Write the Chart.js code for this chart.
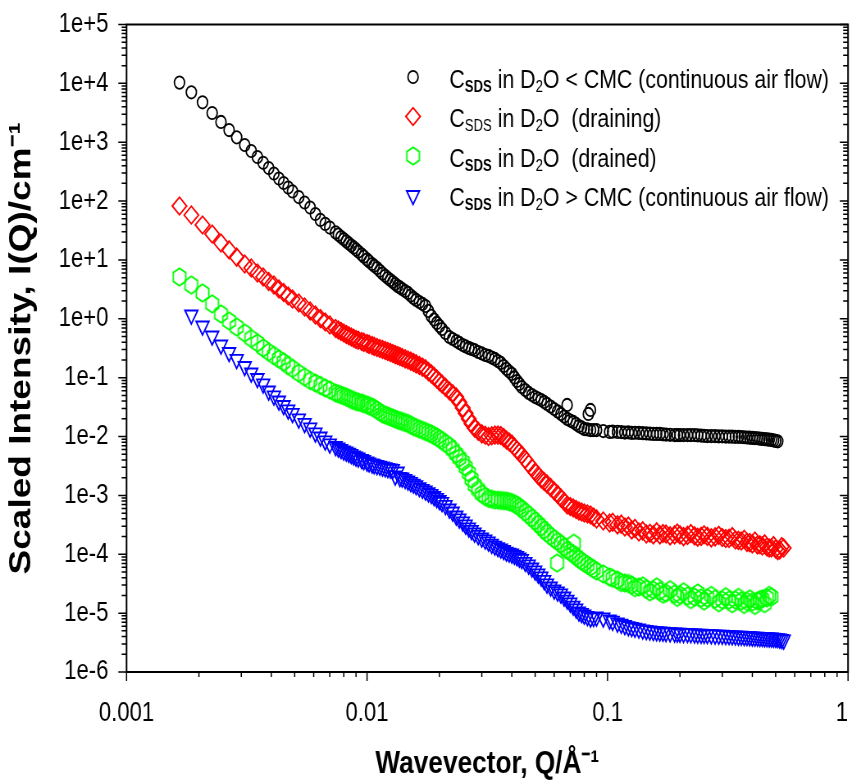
<!DOCTYPE html>
<html>
<head>
<meta charset="utf-8">
<script src="https://cdn.jsdelivr.net/npm/chart.js@4.4.1/dist/chart.umd.min.js"></script>
<style>
  html, body { margin: 0; padding: 0; background: #fff; overflow: hidden; }
  /* the original figure is squeezed sideways, so draw wide and compress */
  #wrap { width: 1045px; height: 780px; transform: scaleX(0.82); transform-origin: 0 0; }
</style>
</head>
<body>
<div id="wrap"><canvas id="myChart" width="1045" height="780"></canvas></div>
<script>
// wavevector Q / Å^-1, main run shared by the four samples
const qValues = [
  0.00166, 0.00186, 0.00207, 0.00227, 0.00247, 0.00267, 0.00287, 0.0031, 0.0033, 0.0035,
  0.0037, 0.0039, 0.0041, 0.0043, 0.0045, 0.0047, 0.0049, 0.0052, 0.0055, 0.0058,
  0.0061, 0.0064, 0.0067, 0.0070, 0.0074, 0.0078, 0.0082, 0.0086, 0.0090, 0.0095,
  0.0100, 0.0105, 0.0110, 0.0116, 0.0122, 0.0128, 0.0134, 0.0140, 0.0148, 0.0156,
  0.0165, 0.0175, 0.0185, 0.0195, 0.0205, 0.022, 0.0235, 0.025, 0.0265, 0.028,
  0.030, 0.032, 0.034, 0.036, 0.038, 0.040, 0.042, 0.044, 0.047, 0.050,
  0.053, 0.056, 0.060, 0.064, 0.068, 0.072, 0.076, 0.080, 0.085, 0.090,
  0.096, 0.102, 0.110, 0.118, 0.126, 0.135, 0.145, 0.155, 0.165, 0.175,
  0.19, 0.20, 0.215, 0.23, 0.245, 0.26, 0.28, 0.30, 0.32, 0.34,
  0.36, 0.38, 0.40, 0.42, 0.44, 0.46, 0.48, 0.50, 0.52, 0.54
];
// overlapping mid-Q and high-Q detector settings
const qMid = [
  0.0076, 0.0080, 0.0084, 0.0088, 0.0092, 0.0097, 0.0102, 0.0107, 0.0113, 0.0119,
  0.0125, 0.0131, 0.0137, 0.0144, 0.0152, 0.0160, 0.0170, 0.0180, 0.0190, 0.0200,
  0.0212, 0.0227, 0.0242, 0.0257, 0.0272, 0.029, 0.031, 0.033, 0.035, 0.037,
  0.039, 0.041, 0.043, 0.0455, 0.0485, 0.0515, 0.0545, 0.058, 0.062, 0.066,
  0.070, 0.074, 0.078, 0.0825, 0.0875
];
const qHigh = [
  0.105, 0.114, 0.122, 0.130, 0.140, 0.150, 0.160, 0.170, 0.182, 0.195,
  0.207, 0.222, 0.237, 0.252, 0.27, 0.29, 0.31, 0.33, 0.35, 0.37,
  0.39, 0.41, 0.43, 0.45, 0.47, 0.49, 0.51, 0.53
];

// scaled intensity I(Q) / cm^-1 — C_SDS < CMC, continuous air flow
const belowCmcFlow = [
  10300, 7050, 4770, 3140, 2210, 1610, 1210, 897, 710, 561,
  447, 365, 294, 242, 203, 170, 146, 117, 94.6, 77.8,
  60.4, 47.9, 41.0, 35.5, 29.4, 24.5, 20.7, 17.6, 15.1, 12.4,
  10.2, 8.54, 7.30, 5.89, 4.94, 4.22, 3.61, 3.21, 2.75, 2.26,
  1.93, 1.65, 1.12, 0.85, 0.672, 0.491, 0.420, 0.359, 0.320, 0.295,
  0.258, 0.234, 0.208, 0.178, 0.141, 0.116, 0.0879, 0.0695, 0.0550, 0.0470,
  0.0418, 0.0358, 0.0294, 0.0242, 0.0199, 0.0177, 0.0151, 0.0134, 0.0129, 0.0129,
  0.0124, 0.0120, 0.0120, 0.0117, 0.0115, 0.0115, 0.0113, 0.0111, 0.0111, 0.0108,
  0.0106, 0.0106, 0.0106, 0.0106, 0.0104, 0.0102, 0.0102, 0.0101, 0.0100, 0.0099,
  0.00983, 0.00963, 0.00946, 0.00935, 0.00910, 0.00893, 0.00875, 0.00841, null, null
];
const belowCmcFlowMid = [
  26.9, 22.5, 19.1, 16.3, 13.9, 11.4, 9.45, 7.99, 6.55, 5.38,
  4.55, 3.89, 3.41, 2.97, 2.49, 2.09, 1.79, 1.36, 0.974, 0.756,
  0.574, 0.454, 0.389, 0.339, 0.307, 0.273, 0.243, 0.220, 0.192, 0.158,
  0.127, 0.101, 0.0782, 0.0618, 0.0508, 0.0443, 0.0387, 0.0324, 0.0267, 0.0219,
  0.0187, 0.0164, 0.0143, 0.0132, 0.0129
];
const belowCmcFlowHigh = [
  0.0121, 0.0119, 0.0118, 0.0116, 0.0114, 0.0112, 0.0111, 0.0109, 0.0107, 0.0106,
  0.0106, 0.0106, 0.0105, 0.0103, 0.0102, 0.0101, 0.0100, 0.00995, 0.00990, 0.00973,
  0.00955, 0.00940, 0.00922, 0.00902, 0.00884, 0.00860, 0.00830, null
];
const belowCmcExtraQ = [0.0679, 0.0849, 0.0832];
const belowCmcExtraI = [0.0344, 0.0283, 0.0242];

// draining
const draining = [
  82.5, 58.0, 39.3, 27.6, 19.4, 14.8, 11.2, 8.54, 7.30, 6.00,
  5.14, 4.31, 3.75, 3.21, 2.80, 2.44, 2.17, 1.86, 1.59, 1.36,
  1.16, 1.01, 0.884, 0.786, 0.685, 0.609, 0.542, 0.491, 0.446, 0.412,
  0.381, 0.352, 0.326, 0.301, 0.279, 0.258, 0.238, 0.220, 0.200, 0.181,
  0.161, 0.141, 0.116, 0.0950, 0.0782, 0.0594, 0.0470, 0.0306, 0.0199, 0.0140,
  0.0111, 0.0100, 0.0106, 0.0104, 0.00875, 0.00748, 0.00591, 0.00486, 0.00342, 0.00250,
  0.00190, 0.00156, 0.00119, 0.000905, 0.000688, 0.000612, 0.000544, 0.000503, 0.000465, 0.000398,
  0.000368, 0.000340, 0.000315, 0.000291, 0.000259, 0.000239, 0.000221, 0.000213, 0.000213, 0.000221,
  0.000213, 0.000213, 0.000209, 0.000205, 0.000201, 0.000201, 0.000197, 0.000193, 0.000186, 0.000175,
  0.000168, 0.000159, 0.000150, 0.000144, 0.000138, 0.000133, 0.000128, 0.000123, 0.000118, 0.000128
];
const drainingMid = [
  0.646, 0.574, 0.515, 0.467, 0.432, 0.399, 0.369, 0.341, 0.313, 0.289,
  0.268, 0.247, 0.229, 0.209, 0.191, 0.172, 0.151, 0.127, 0.105, 0.0855,
  0.0687, 0.0533, 0.0384, 0.0249, 0.0165, 0.0123, 0.0105, 0.0103, 0.0106, 0.00957,
  0.00809, 0.00665, 0.00536, 0.00408, 0.00292, 0.00218, 0.00172, 0.00136, 0.00104, 0.000789,
  0.000649, 0.000577, 0.000523, 0.000484, 0.000430
];
const drainingHigh = [
  0.000350, 0.000325, 0.000300, 0.000275, 0.000250, 0.000228, 0.000240, 0.000225, 0.000205, 0.000230,
  0.000200, 0.000225, 0.000195, 0.000215, 0.000190, 0.000210, 0.000185, 0.000200, 0.000172, 0.000180,
  0.000158, 0.000168, 0.000145, 0.000150, 0.000128, 0.000140, 0.000115, 0.000135
];

// drained
const drained = [
  5.14, 3.75, 2.75, 1.79, 1.21, 0.919, 0.727, 0.574, 0.463, 0.389,
  0.320, 0.273, 0.238, 0.208, 0.185, 0.161, 0.143, 0.120, 0.103, 0.0896,
  0.0813, 0.0737, 0.0668, 0.0618, 0.0550, 0.0508, 0.0470, 0.0426, 0.0394, 0.0372,
  0.0344, 0.0318, 0.0283, 0.0242, 0.0224, 0.0207, 0.0191, 0.0180, 0.0167, 0.0148,
  0.0134, 0.0122, 0.0111, 0.00983, 0.00858, 0.00692, 0.00506, 0.00370, 0.00241, 0.00150,
  0.00106, 0.000887, 0.000837, 0.000820, 0.000804, 0.000759, 0.000688, 0.000588, 0.000465, 0.000368,
  0.000291, 0.000230, 0.000182, 0.000150, 0.000118, 0.000101, 8.32e-5, 7.12e-5, 6.09e-5, 5.21e-5,
  4.63e-5, 4.12e-5, 3.66e-5, 3.26e-5, 3.01e-5, 2.78e-5, 2.57e-5, 2.47e-5, 2.38e-5, 2.20e-5,
  2.12e-5, 2.04e-5, 1.96e-5, 1.88e-5, 1.81e-5, 1.81e-5, 1.74e-5, 1.67e-5, 1.67e-5, 1.67e-5,
  1.61e-5, 1.58e-5, 1.55e-5, 1.61e-5, 1.74e-5, 1.81e-5, 1.88e-5, null, null, null
];
const drainedMid = [
  0.0528, 0.0489, 0.0448, 0.0410, 0.0385, 0.0360, 0.0333, 0.0303, 0.0262, 0.0232,
  0.0215, 0.0199, 0.0186, 0.0173, 0.0157, 0.0142, 0.0128, 0.0116, 0.0104, 0.00913,
  0.00769, 0.00601, 0.00434, 0.00302, 0.00190, 0.00126, 0.000963, 0.000863, 0.000830, 0.000811,
  0.000780, 0.000721, 0.000636, 0.000523, 0.000414, 0.000327, 0.000259, 0.000205, 0.000165, 0.000133,
  0.000109, 9.18e-5, 7.70e-5, 6.58e-5, 5.63e-5
];
const drainedHigh = [
  3.9e-5, 3.3e-5, 3.2e-5, 2.7e-5, 2.9e-5, 2.3e-5, 2.8e-5, 2.1e-5, 2.5e-5, 1.85e-5,
  2.3e-5, 1.7e-5, 2.2e-5, 1.6e-5, 2.0e-5, 1.5e-5, 1.9e-5, 1.45e-5, 1.85e-5, 1.4e-5,
  1.75e-5, 1.35e-5, 1.7e-5, 1.45e-5, 2.0e-5, null, null, null
];
const drainedExtraQ = [0.0617, 0.0724];
const drainedExtraI = [7.1e-5, 1.54e-4];

// C_SDS > CMC, continuous air flow
const aboveCmcFlow = [
  null, 1.16, 0.755, 0.511, 0.359, 0.268, 0.204, 0.155, 0.120, 0.0969,
  0.0782, 0.0594, 0.0489, 0.0402, 0.0337, 0.0283, 0.0247, 0.0199, 0.0167, 0.0140,
  0.0115, 0.00983, 0.00841, 0.00748, 0.00678, 0.00603, 0.00547, 0.00496, 0.00450, 0.00408,
  0.00370, 0.00342, 0.00323, 0.00304, 0.00287, 0.00276, 0.00250, 0.00198, 0.00176, 0.00156,
  0.00136, 0.00119, 0.00104, 0.000887, 0.000759, 0.000588, 0.000447, 0.000354, 0.000280, 0.000230,
  0.000189, 0.000162, 0.000138, 0.000123, 0.000109, 0.000101, 9.18e-5, 8.16e-5, 6.58e-5, 5.21e-5,
  4.12e-5, 3.13e-5, 2.47e-5, 2.12e-5, 1.67e-5, 1.32e-5, 1.05e-5, 9.31e-6, 8.28e-6, 8.61e-6,
  8.28e-6, 7.66e-6, 6.81e-6, 6.17e-6, 5.71e-6, 5.38e-6, 5.08e-6, 4.88e-6, 4.79e-6, 4.69e-6,
  4.60e-6, 4.55e-6, 4.52e-6, 4.43e-6, 4.38e-6, 4.33e-6, 4.26e-6, 4.21e-6, 4.16e-6, 4.09e-6,
  4.05e-6, 4.00e-6, 3.94e-6, 3.91e-6, 3.86e-6, 3.82e-6, 3.79e-6, 3.74e-6, 3.64e-6, 3.50e-6
];
const aboveCmcFlowMid = [
  0.00639, 0.00569, 0.00520, 0.00471, 0.00433, 0.00392, 0.00358, 0.00334, 0.00314, 0.00295,
  0.00281, 0.00214, 0.00202, 0.00187, 0.00166, 0.00147, 0.00127, 0.00111, 0.000959, 0.000820,
  0.000675, 0.000523, 0.000398, 0.000315, 0.000254, 0.000209, 0.000175, 0.000148, 0.000130, 0.000116,
  0.000105, 9.62e-5, 8.66e-5, 7.31e-5, 5.85e-5, 4.63e-5, 3.59e-5, 2.78e-5, 2.29e-5, 1.88e-5,
  1.49e-5, 1.18e-5, 9.87e-6, 8.78e-6, 8.44e-6
];
const aboveCmcFlowHigh = [
  7.3e-6, 6.5e-6, 5.9e-6, 5.55e-6, 5.2e-6, 4.98e-6, 4.84e-6, 4.74e-6, 4.64e-6, 4.58e-6,
  4.53e-6, 4.48e-6, 4.40e-6, 4.35e-6, 4.30e-6, 4.23e-6, 4.18e-6, 4.12e-6, 4.07e-6, 4.02e-6,
  3.97e-6, 3.92e-6, 3.88e-6, 3.84e-6, 3.80e-6, 3.76e-6, 3.70e-6, 3.58e-6
];

const xTickValues = [0.001, 0.01, 0.1, 1];
const xTickLabels = ['0.001', '0.01', '0.1', '1'];
const yTickValues = [1e-6, 1e-5, 1e-4, 1e-3, 1e-2, 1e-1, 1e0, 1e1, 1e2, 1e3, 1e4, 1e5];
const yTickLabels = ['1e-6', '1e-5', '1e-4', '1e-3', '1e-2', '1e-1', '1e+0', '1e+1', '1e+2', '1e+3', '1e+4', '1e+5'];

// legend text pieces: C_SDS in D_2 + tail
const seriesTails = ['O < CMC (continuous air flow)', 'O  (draining)', 'O  (drained)', 'O > CMC (continuous air flow)'];
const sdsBold = [true, false, true, true];
const seriesColors = ['#000000', '#ff0000', '#00ff00', '#0000ff'];

const FONT = '"Liberation Sans", Arial, sans-serif';
const MARK_LW = 1.8;

function points(qs, vals) {
  const pts = [];
  qs.forEach((q, k) => {
    if (vals[k] != null) pts.push({ x: q, y: vals[k] });
  });
  return pts;
}

function allRuns(main, mid, high, extraQ, extraI) {
  let pts = points(qValues, main).concat(points(qMid, mid), points(qHigh, high));
  if (extraQ) pts = pts.concat(points(extraQ, extraI));
  return pts;
}

// decades plus 2..9 minor ticks
function logTicks(decades) {
  const out = [];
  decades.forEach((d, i) => {
    out.push({ value: d, major: true });
    if (i < decades.length - 1) {
      for (let m = 2; m <= 9; m++) out.push({ value: d * m, major: false });
    }
  });
  return out;
}

function hexagonMarker(color) {
  const c = document.createElement('canvas');
  c.width = 24;
  c.height = 24;
  const g = c.getContext('2d');
  g.strokeStyle = color;
  g.lineWidth = MARK_LW;
  g.beginPath();
  for (let i = 0; i < 6; i++) {
    const a = Math.PI / 3 * i - Math.PI / 2;
    const px = 12 + 8.8 * Math.cos(a);
    const py = 12 + 8.8 * Math.sin(a);
    if (i === 0) g.moveTo(px, py); else g.lineTo(px, py);
  }
  g.closePath();
  g.stroke();
  return c;
}

const hexagon = hexagonMarker(seriesColors[2]);

function markerSet(label, data, color, style, radius, rotation) {
  return {
    label: label,
    data: data,
    showLine: false,
    borderColor: color,
    pointBorderColor: color,
    backgroundColor: 'rgba(0,0,0,0)',
    pointBackgroundColor: 'rgba(0,0,0,0)',
    pointStyle: style,
    pointRadius: radius,
    pointHoverRadius: radius,
    pointRotation: rotation,
    pointBorderWidth: MARK_LW
  };
}

// frame and tick marks (left/bottom outside, right inside)
const frameTicks = {
  id: 'frameTicks',
  afterDatasetsDraw(chart) {
    const { ctx, chartArea: a, scales: { x, y } } = chart;
    ctx.save();
    ctx.strokeStyle = '#000';
    ctx.lineWidth = 2;
    ctx.strokeRect(a.left, a.top, a.right - a.left, a.bottom - a.top);
    ctx.lineWidth = 1.5;
    ctx.beginPath();
    x.ticks.forEach(t => {
      const px = x.getPixelForValue(t.value);
      const len = t.major ? 9 : 5;
      ctx.moveTo(px, a.bottom);
      ctx.lineTo(px, a.bottom + len);
    });
    y.ticks.forEach(t => {
      const py = y.getPixelForValue(t.value);
      const len = t.major ? 10 : 6;
      ctx.moveTo(a.left, py);
      ctx.lineTo(a.left - len, py);
      ctx.moveTo(a.right, py);
      ctx.lineTo(a.right - len, py);
    });
    ctx.stroke();
    ctx.restore();
  }
};

// legend with subscripts
const legendRowY = [77, 116.5, 156, 195.5];
const legendMarkerX = 503.7;
const legendTextX = 548;

const richLegend = {
  id: 'richLegend',
  afterDraw(chart) {
    const ctx = chart.ctx;
    ctx.save();
    chart.data.datasets.forEach((ds, i) => {
      const cy = legendRowY[i];
      ctx.strokeStyle = ds.pointBorderColor;
      ctx.fillStyle = 'rgba(0,0,0,0)';
      ctx.lineWidth = MARK_LW;
      Chart.helpers.drawPoint(ctx, {
        pointStyle: ds.pointStyle,
        rotation: ds.pointRotation,
        radius: ds.pointRadius,
        borderWidth: MARK_LW
      }, legendMarkerX, cy);

      const base = cy + 10.5;
      const parts = [
        ['C', '26px ', 0],
        ['SDS', (sdsBold[i] ? 'bold ' : '') + '16px ', 4],
        [' in D', '26px ', 0],
        ['2', '16px ', 4],
        [seriesTails[i], '26px ', 0]
      ];
      let x = legendTextX;
      ctx.fillStyle = '#000';
      ctx.textBaseline = 'alphabetic';
      ctx.textAlign = 'left';
      parts.forEach(p => {
        ctx.font = p[1] + FONT;
        ctx.fillText(p[0], x, base + p[2]);
        x += ctx.measureText(p[0]).width;
      });
    });
    ctx.restore();
  }
};

Chart.defaults.font.family = FONT;
Chart.defaults.color = '#000';

const chart = new Chart(document.getElementById('myChart'), {
  type: 'scatter',
  data: {
    datasets: [
      markerSet('CSDS in D2O < CMC (continuous air flow)',
        allRuns(belowCmcFlow, belowCmcFlowMid, belowCmcFlowHigh, belowCmcExtraQ, belowCmcExtraI),
        seriesColors[0], 'circle', 6.2, 0),
      markerSet('CSDS in D2O (draining)',
        allRuns(draining, drainingMid, drainingHigh),
        seriesColors[1], 'rectRot', 8.8, 0),
      markerSet('CSDS in D2O (drained)',
        allRuns(drained, drainedMid, drainedHigh, drainedExtraQ, drainedExtraI),
        seriesColors[2], hexagon, 9, 0),
      markerSet('CSDS in D2O > CMC (continuous air flow)',
        allRuns(aboveCmcFlow, aboveCmcFlowMid, aboveCmcFlowHigh),
        seriesColors[3], 'triangle', 9, 180)
    ]
  },
  options: {
    responsive: false,
    animation: false,
    events: [],
    layout: { padding: { top: 24.5, right: 10.7, bottom: 0, left: 0 } },
    plugins: {
      legend: { display: false },
      tooltip: { enabled: false }
    },
    scales: {
      x: {
        type: 'logarithmic',
        min: 0.001,
        max: 1,
        grid: { display: false, drawTicks: false },
        border: { display: false },
        afterBuildTicks(scale) { scale.ticks = logTicks(xTickValues); },
        afterFit(scale) {
          scale.height = 108;
          scale.paddingLeft = 0;
          scale.paddingRight = 0;
        },
        ticks: {
          autoSkip: false,
          maxRotation: 0,
          padding: 25,
          font: { size: 27 },
          callback: (value, index, ticks) => {
            if (!ticks[index].major) return '';
            const label = xTickLabels[xTickValues.indexOf(value)];
            // last label sits on the page edge; nudge it inward a little
            return index === ticks.length - 1 ? label + '  ' : label;
          }
        },
        title: {
          display: true,
          text: 'Wavevector, Q/Å⁻¹',
          font: { size: 32, weight: 'bold', lineHeight: 1 },
          padding: { top: 0, bottom: 0 }
        }
      },
      y: {
        type: 'logarithmic',
        min: 1e-6,
        max: 1e5,
        grid: { display: false, drawTicks: false },
        border: { display: false },
        afterBuildTicks(scale) { scale.ticks = logTicks(yTickValues); },
        afterFit(scale) {
          scale.width = 154.3;
          scale.paddingTop = 0;
          scale.paddingBottom = 0;
        },
        ticks: {
          autoSkip: false,
          padding: 22,
          font: { size: 27 },
          callback: (value, index, ticks) => ticks[index].major ? yTickLabels[yTickValues.indexOf(value)] : ''
        },
        title: {
          display: true,
          text: 'Scaled Intensity, I(Q)/cm⁻¹',
          font: { size: 37, weight: 'bold', lineHeight: 1 },
          padding: { top: 8, bottom: 0 }
        }
      }
    }
  },
  plugins: [frameTicks, richLegend]
});
</script>
</body>
</html>
